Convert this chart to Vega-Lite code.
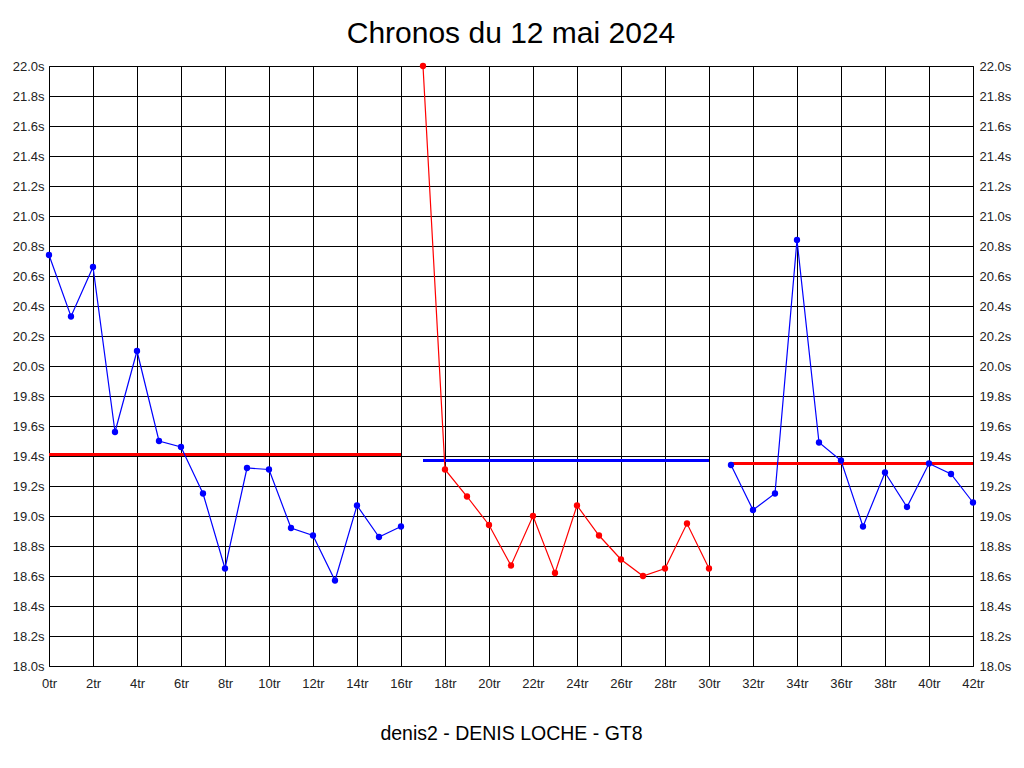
{
  "$schema": "https://vega.github.io/schema/vega-lite/v6.json",
  "width": 924,
  "height": 600,
  "autosize": {"type": "none"},
  "padding": {"left": 49, "top": 66, "right": 51, "bottom": 102},
  "background": "white",
  "config": {
    "view": {"stroke": "black", "strokeWidth": 1},
    "font": "Liberation Sans",
    "axis": {
      "gridColor": "black",
      "gridOpacity": 1,
      "gridWidth": 1,
      "domain": false,
      "ticks": false,
      "labelFont": "Liberation Sans",
      "labelFontSize": 13,
      "labelColor": "#222222",
      "labelFlush": false
    }
  },
  "title": {
    "text": "Chronos du 12 mai 2024",
    "fontSize": 30,
    "fontWeight": "normal",
    "font": "Liberation Sans",
    "color": "black",
    "anchor": "middle",
    "offset": 11
  },
  "datasets": {
    "laps": [
      {"lap": 0, "t": 20.74, "session": "S1"},
      {"lap": 1, "t": 20.33, "session": "S1"},
      {"lap": 2, "t": 20.66, "session": "S1"},
      {"lap": 3, "t": 19.56, "session": "S1"},
      {"lap": 4, "t": 20.10, "session": "S1"},
      {"lap": 5, "t": 19.50, "session": "S1"},
      {"lap": 6, "t": 19.46, "session": "S1"},
      {"lap": 7, "t": 19.15, "session": "S1"},
      {"lap": 8, "t": 18.65, "session": "S1"},
      {"lap": 9, "t": 19.32, "session": "S1"},
      {"lap": 10, "t": 19.31, "session": "S1"},
      {"lap": 11, "t": 18.92, "session": "S1"},
      {"lap": 12, "t": 18.87, "session": "S1"},
      {"lap": 13, "t": 18.57, "session": "S1"},
      {"lap": 14, "t": 19.07, "session": "S1"},
      {"lap": 15, "t": 18.86, "session": "S1"},
      {"lap": 16, "t": 18.93, "session": "S1"},
      {"lap": 17, "t": 22.00, "session": "S2"},
      {"lap": 18, "t": 19.31, "session": "S2"},
      {"lap": 19, "t": 19.13, "session": "S2"},
      {"lap": 20, "t": 18.94, "session": "S2"},
      {"lap": 21, "t": 18.67, "session": "S2"},
      {"lap": 22, "t": 19.00, "session": "S2"},
      {"lap": 23, "t": 18.62, "session": "S2"},
      {"lap": 24, "t": 19.07, "session": "S2"},
      {"lap": 25, "t": 18.87, "session": "S2"},
      {"lap": 26, "t": 18.71, "session": "S2"},
      {"lap": 27, "t": 18.60, "session": "S2"},
      {"lap": 28, "t": 18.65, "session": "S2"},
      {"lap": 29, "t": 18.95, "session": "S2"},
      {"lap": 30, "t": 18.65, "session": "S2"},
      {"lap": 31, "t": 19.34, "session": "S3"},
      {"lap": 32, "t": 19.04, "session": "S3"},
      {"lap": 33, "t": 19.15, "session": "S3"},
      {"lap": 34, "t": 20.84, "session": "S3"},
      {"lap": 35, "t": 19.49, "session": "S3"},
      {"lap": 36, "t": 19.37, "session": "S3"},
      {"lap": 37, "t": 18.93, "session": "S3"},
      {"lap": 38, "t": 19.29, "session": "S3"},
      {"lap": 39, "t": 19.06, "session": "S3"},
      {"lap": 40, "t": 19.35, "session": "S3"},
      {"lap": 41, "t": 19.28, "session": "S3"},
      {"lap": 42, "t": 19.09, "session": "S3"}
    ],
    "avgs": [
      {"session": "S1", "start": 0, "end": 16, "avg": 19.41},
      {"session": "S2", "start": 17, "end": 30, "avg": 19.37},
      {"session": "S3", "start": 31, "end": 42, "avg": 19.35}
    ]
  },
  "encoding": {
    "x": {
      "type": "quantitative",
      "scale": {"domain": [0, 42], "nice": false, "zero": false}
    },
    "y": {
      "type": "quantitative",
      "scale": {"domain": [18, 22], "nice": false, "zero": false}
    }
  },
  "layer": [
    {
      "data": {"name": "avgs"},
      "mark": {"type": "rule", "strokeWidth": 3},
      "encoding": {
        "x": {"field": "start", "type": "quantitative", "title": "denis2 - DENIS LOCHE - GT8",
          "axis": {
            "values": [0,2,4,6,8,10,12,14,16,18,20,22,24,26,28,30,32,34,36,38,40,42],
            "labelExpr": "datum.value + 'tr'",
            "labelPadding": 11,
            "titleFontSize": 19.5,
            "titleFontWeight": "normal",
            "titleFont": "Liberation Sans",
            "titleColor": "black",
            "titlePadding": 34
          }},
        "x2": {"field": "end"},
        "y": {"field": "avg", "type": "quantitative", "title": null,
          "axis": {
            "orient": "left",
            "values": [18,18.2,18.4,18.6,18.8,19,19.2,19.4,19.6,19.8,20,20.2,20.4,20.6,20.8,21,21.2,21.4,21.6,21.8,22],
            "labelExpr": "format(datum.value, '.1f') + 's'",
            "labelPadding": 5
          }},
        "color": {"field": "session", "type": "nominal", "legend": null,
          "scale": {"domain": ["S1", "S2", "S3"], "range": ["#FF0000", "#0000FF", "#FF0000"]}}
      }
    },
    {
      "data": {"name": "laps"},
      "mark": {"type": "line", "strokeWidth": 1.2},
      "encoding": {
        "x": {"field": "lap", "type": "quantitative"},
        "y": {"field": "t", "type": "quantitative", "title": null,
          "axis": {
            "orient": "right",
            "grid": false,
            "values": [18,18.2,18.4,18.6,18.8,19,19.2,19.4,19.6,19.8,20,20.2,20.4,20.6,20.8,21,21.2,21.4,21.6,21.8,22],
            "labelExpr": "format(datum.value, '.1f') + 's'",
            "labelPadding": 6
          }},
        "detail": {"field": "session"},
        "color": {"field": "session", "type": "nominal", "legend": null,
          "scale": {"domain": ["S1", "S2", "S3"], "range": ["#0000FF", "#FF0000", "#0000FF"]}}
      }
    },
    {
      "data": {"name": "laps"},
      "mark": {"type": "point", "filled": true, "size": 40, "opacity": 1},
      "encoding": {
        "x": {"field": "lap", "type": "quantitative"},
        "y": {"field": "t", "type": "quantitative", "axis": null},
        "color": {"field": "session", "type": "nominal", "legend": null,
          "scale": {"domain": ["S1", "S2", "S3"], "range": ["#0000FF", "#FF0000", "#0000FF"]}}
      }
    }
  ],
  "resolve": {"scale": {"color": "independent"}, "axis": {"y": "independent"}}
}
